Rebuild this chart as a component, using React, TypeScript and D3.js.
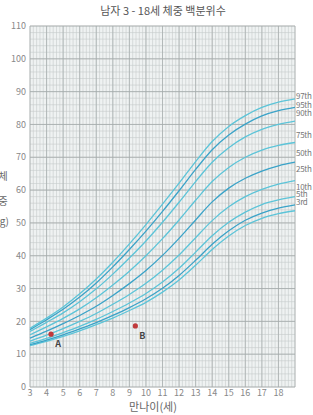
import React from "react";
import * as d3 from "d3";

const ages = [3, 4, 5, 6, 7, 8, 9, 10, 11, 12, 13, 14, 15, 16, 17, 18, 19];
const p3 = [12.6, 13.9, 15.4, 17.1, 19.0, 21.0, 23.3, 25.8, 28.9, 32.6, 37.1, 41.9, 46.0, 49.2, 51.4, 52.8, 53.7];
const p5 = [12.9, 14.3, 15.9, 17.7, 19.6, 21.8, 24.2, 26.9, 30.1, 34.0, 38.6, 43.5, 47.6, 50.8, 53.0, 54.5, 55.5];
const p10 = [13.3, 14.8, 16.6, 18.5, 20.6, 23.0, 25.6, 28.5, 32.0, 36.2, 41.1, 46.1, 50.2, 53.3, 55.6, 57.0, 58.0];
const p25 = [14.0, 15.8, 17.8, 20.0, 22.4, 25.2, 28.2, 31.6, 35.6, 40.2, 45.5, 50.7, 54.9, 58.0, 60.2, 61.8, 62.9];
const p50 = [14.9, 17.0, 19.3, 21.8, 24.6, 27.9, 31.5, 35.5, 40.1, 45.3, 50.9, 56.4, 60.6, 63.6, 65.8, 67.4, 68.5];
const p75 = [15.9, 18.3, 20.9, 23.8, 27.2, 31.1, 35.3, 40.0, 45.2, 50.9, 56.9, 62.6, 66.9, 70.0, 72.2, 73.6, 74.5];
const p90 = [16.9, 19.7, 22.6, 26.0, 29.9, 34.4, 39.3, 44.5, 50.2, 56.3, 62.6, 68.5, 72.9, 76.2, 78.5, 80.0, 81.0];
const p95 = [17.5, 20.5, 23.7, 27.4, 31.7, 36.6, 41.9, 47.5, 53.5, 59.8, 66.3, 72.3, 76.8, 80.1, 82.6, 84.2, 85.2];
const p97 = [17.9, 21.0, 24.4, 28.4, 32.9, 38.0, 43.6, 49.5, 55.7, 62.1, 68.7, 74.8, 79.4, 82.7, 85.2, 86.8, 87.8];

const seriesNames = ["3rd", "5th", "10th", "25th", "50th", "75th", "90th", "95th", "97th"];
const seriesValues = [p3, p5, p10, p25, p50, p75, p90, p95, p97];
const labelKg = [56.4, 58.8, 61.0, 66.5, 71.3, 76.8, 83.5, 86.0, 88.7];
const darkSeries = ["5th", "50th", "95th"];

const xTicks = [3, 4, 5, 6, 7, 8, 9, 10, 11, 12, 13, 14, 15, 16, 17, 18];
const yTicks = [0, 10, 20, 30, 40, 50, 60, 70, 80, 90, 100, 110];

const pointNames = ["A", "B"];
const pointAges = [4.27, 9.36];
const pointKg = [16.1, 18.6];

const W = 313;
const H = 415;
const KR = "'Noto Sans CJK KR', 'Noto Sans', sans-serif";

export default function App() {
  const x = d3.scaleLinear().domain([3, 19]).range([30, 295]);
  const y = d3.scaleLinear().domain([0, 110]).range([387, 26]);

  const minorX = d3.range(3, 19.001, 0.2);
  const minorY = d3.range(0, 110.001, 2);

  const line = d3
    .line<number>()
    .x((_, i) => x(ages[i]))
    .y((d) => y(d))
    .curve(d3.curveMonotoneX);

  return (
    <svg width={W} height={H} style={{ position: "absolute", left: 0, top: 0, background: "#fff" }}>
      <text x={163} y={15} textAnchor="middle" fontSize={11} fill="#555" fontFamily={KR}>
        남자 3 - 18세 체중 백분위수
      </text>
      <rect x={x(3)} y={y(110)} width={x(19) - x(3)} height={y(0) - y(110)} fill="#eff2f2" />
      {minorX.map((v, i) => (
        <line key={"vx" + i} x1={x(v)} x2={x(v)} y1={y(0)} y2={y(110)} stroke="#c6cbcb" strokeWidth={0.6} />
      ))}
      {minorY.map((v, i) => (
        <line key={"hy" + i} x1={x(3)} x2={x(19)} y1={y(v)} y2={y(v)} stroke="#c6cbcb" strokeWidth={0.6} />
      ))}
      {d3.range(3, 19.001, 1).map((v) => (
        <line key={"VX" + v} x1={x(v)} x2={x(v)} y1={y(0)} y2={y(110)} stroke="#aab0b0" strokeWidth={0.8} />
      ))}
      {yTicks.map((v) => (
        <line key={"HY" + v} x1={x(3)} x2={x(19)} y1={y(v)} y2={y(v)} stroke="#a3a9a9" strokeWidth={0.8} />
      ))}
      {seriesValues.map((vals, i) => (
        <path
          key={seriesNames[i]}
          d={line(vals) || ""}
          fill="none"
          stroke={darkSeries.includes(seriesNames[i]) ? "#3aa3c8" : "#5cc4d8"}
          strokeWidth={1.3}
        />
      ))}
      {seriesNames.map((n, i) => (
        <text key={"l" + n} x={296} y={y(labelKg[i])} dy="0.35em" fontSize={8} letterSpacing={-0.3} fill="#777" fontFamily={KR}>
          {n}
        </text>
      ))}
      {yTicks.map((v) => (
        <text key={"yt" + v} x={26} y={y(v)} dy="0.35em" textAnchor="end" fontSize={9} fill="#888" fontFamily={KR}>
          {v}
        </text>
      ))}
      {xTicks.map((v) => (
        <text key={"xt" + v} x={x(v)} y={396} textAnchor="middle" fontSize={9} fill="#888" fontFamily={KR}>
          {v}
        </text>
      ))}
      <text x={153} y={411} textAnchor="middle" fontSize={11} fill="#666" fontFamily={KR}>
        만나이(세)
      </text>
      <text x={3} y={180} textAnchor="middle" fontSize={10} fill="#666" fontFamily={KR}>체</text>
      <text x={3} y={205} textAnchor="middle" fontSize={10} fill="#666" fontFamily={KR}>중</text>
      <text x={0} y={225} textAnchor="middle" fontSize={10} fill="#666" fontFamily={KR}>(kg)</text>
      {pointNames.map((n, i) => (
        <g key={n}>
          <circle cx={x(pointAges[i])} cy={y(pointKg[i])} r={2.6} fill="#c0393b" />
          <text x={x(pointAges[i]) + 7} y={y(pointKg[i]) + 13} textAnchor="middle" fontSize={9} fontWeight="bold" fill="#444" fontFamily={KR}>
            {n}
          </text>
        </g>
      ))}
    </svg>
  );
}
